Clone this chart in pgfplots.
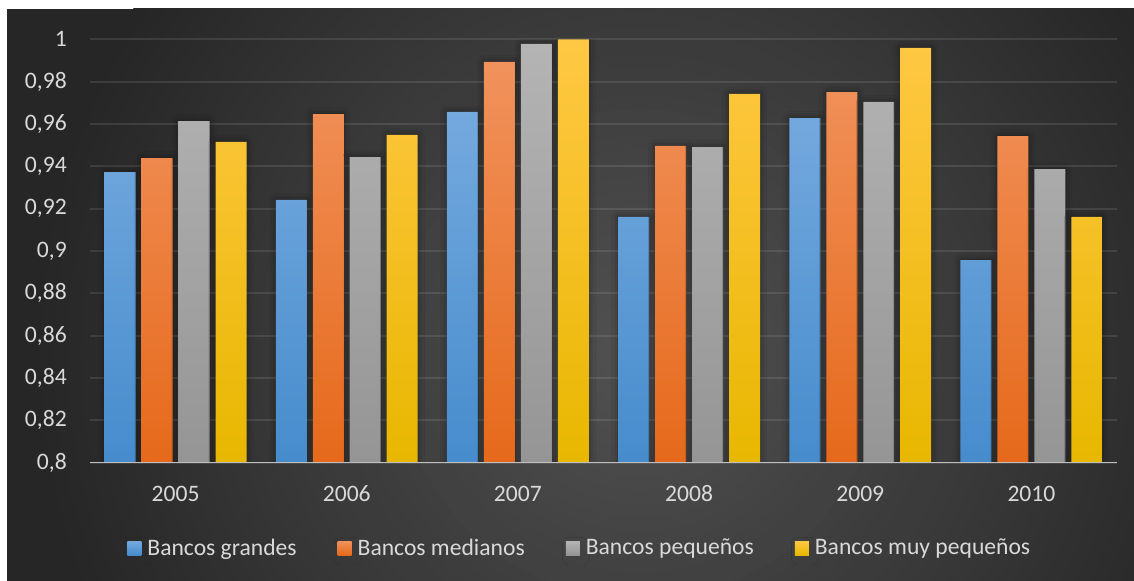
\documentclass[border=0pt]{standalone}
\usepackage{pgfplots}
\pgfplotsset{compat=1.18}
\usepackage{pgfplotstable}
\usetikzlibrary{shadows.blur}
\usepackage{fontspec}
\setmainfont{Carlito}
\definecolor{bgin}{HTML}{515151}
\definecolor{bgout}{HTML}{262626}
\definecolor{txt}{HTML}{D9D9D9}
\definecolor{blueT}{HTML}{74A9DE}
\definecolor{blueB}{HTML}{468CCD}
\definecolor{oranT}{HTML}{F1925C}
\definecolor{oranB}{HTML}{E6691B}
\definecolor{grayT}{HTML}{B4B4B4}
\definecolor{grayB}{HTML}{959595}
\definecolor{yellT}{HTML}{FFC844}
\definecolor{yellB}{HTML}{E8B700}
\newcommand\chartfont{\fontsize{17.7pt}{20pt}\selectfont}
\pgfplotstableread{
x  grandes medianos pequenos muypequenos
0  0.9373  0.9439   0.9614   0.9515
1  0.9241  0.9647   0.9444   0.9548
2  0.9657  0.9893   0.9978   1.0000
3  0.9161  0.9496   0.9491   0.9742
4  0.9628  0.9751   0.9704   0.9959
5  0.8957  0.9543   0.9387   0.9161
}\datatable
\begin{document}
\begin{tikzpicture}
\useasboundingbox (0,0) rectangle (850.5pt,435.75pt);
\fill[white] (0,0) rectangle (850.5pt,435.75pt);
\begin{scope}
\clip (5.25pt,0) rectangle (850.5pt,429pt);
\fill[bgout] (5.25pt,0) rectangle (850.5pt,429pt);
\foreach \i in {0,...,44} {
  \pgfmathsetmacro\r{460-\i*10.2222}
  \pgfmathsetmacro\p{\i*2.2727}
  \fill[bgin!\p!bgout] (480pt,170pt) circle (\r pt);
}
\end{scope}
\begin{axis}[
  at={(67.5pt,88.725pt)}, anchor=south west,
  scale only axis, width=770.25pt, height=317.55pt,
  xmin=-0.5, xmax=5.5, ymin=0.8, ymax=1,
  y coord trafo/.code={\pgfmathparse{#1-0.8}},
  y coord inv trafo/.code={\pgfmathparse{#1+0.8}},
  xtick={0,1,2,3,4,5}, xticklabels={2005,2006,2007,2008,2009,2010},
  ytick={0.8,0.82,0.84,0.86,0.88,0.9,0.92,0.94,0.96,0.98,1},
  /pgf/number format/assume math mode=true,
  yticklabel style={/pgf/number format/fixed, /pgf/number format/use comma, /pgf/number format/precision=2, anchor=east, inner sep=0pt, xshift=-17.25pt},
  xticklabel style={anchor=center, yshift=-23.25pt},
  tick label style={font=\chartfont, text=txt},
  major tick length=0pt,
  axis line style={draw=none},
  ymajorgrids, major grid style={white, opacity=0.1, line width=1.5pt},
  ybar, bar width=0.181,
  legend columns=4,
  legend style={at={(0.476,-0.2015)}, anchor=center, draw=none, fill=none, text=txt, font=\chartfont,
    nodes={inner sep=0pt},
    /tikz/every odd column/.append style={column sep=4.5pt},
    /tikz/every even column/.append style={column sep=30.75pt}},
  legend image code/.code={\path[#1, /tikz/blur shadow={shadow opacity=0}] (0pt,-5.25pt) rectangle (10.5pt,5.25pt);},
  every axis plot/.append style={/tikz/blur shadow={shadow xshift=0pt, shadow yshift=0pt, shadow blur radius=5pt, shadow opacity=45, shadow scale=1}},
]
\addplot[bar shift=-0.324, draw=none, top color=blueT, bottom color=blueB] table[x=x, y=grandes] {\datatable};
\addplot[bar shift=-0.108, draw=none, top color=oranT, bottom color=oranB] table[x=x, y=medianos] {\datatable};
\addplot[bar shift=0.108, draw=none, top color=grayT, bottom color=grayB] table[x=x, y=pequenos] {\datatable};
\addplot[bar shift=0.324, draw=none, top color=yellT, bottom color=yellB] table[x=x, y=muypequenos] {\datatable};
\legend{Bancos grandes, Bancos medianos, Bancos pequeños, Bancos muy pequeños}
\draw[color=black!25, line width=1.5pt] (rel axis cs:0,0) -- (rel axis cs:1,0);
\end{axis}
\end{tikzpicture}
\end{document}
